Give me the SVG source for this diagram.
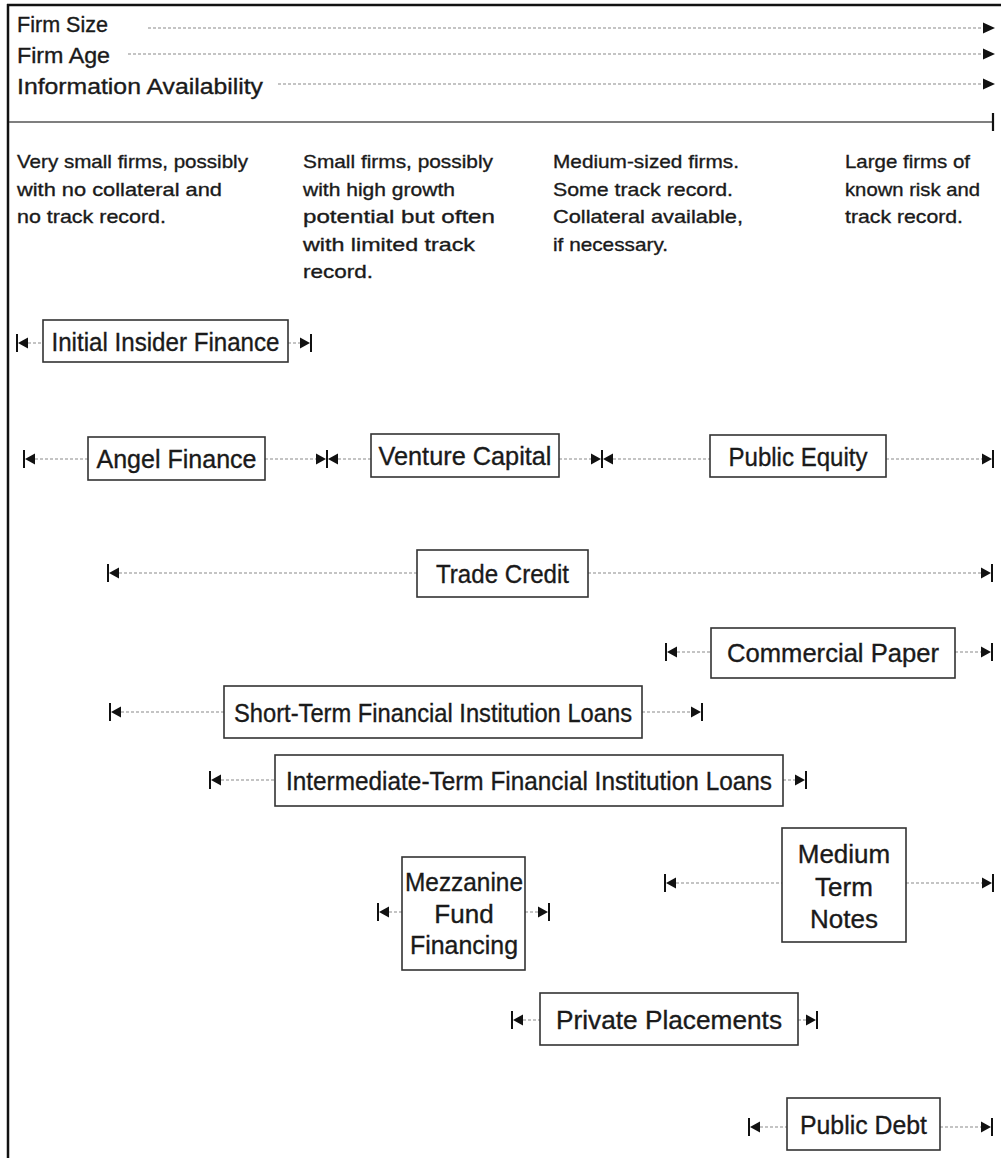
<svg xmlns="http://www.w3.org/2000/svg" xmlns:xlink="http://www.w3.org/1999/xlink" width="1001" height="1158" viewBox="0 0 1001 1158">
<style>
text{font-family:"Liberation Sans",Arial,sans-serif;fill:#1a1a1a;stroke:#1a1a1a;stroke-width:0.35}
.hdr{font-size:22px}
.desc{font-size:19px}
.lbl{font-size:26px;text-anchor:middle}
.box{fill:#fff;stroke:#333;stroke-width:1.6}
.dot{stroke:#8a8a8a;stroke-width:1.2;stroke-dasharray:3 2;fill:none}
.bar{stroke:#111;stroke-width:2}
.tri{fill:#111}
</style>
<defs>
<g id="capL"><line class="bar" x1="0" y1="-9" x2="0" y2="9"/><polygon class="tri" points="1,0 11,-5.5 11,5.5"/></g>
<g id="capR"><line class="bar" x1="0" y1="-9" x2="0" y2="9"/><polygon class="tri" points="-1,0 -11,-5.5 -11,5.5"/></g>
<polygon id="head" class="tri" points="995,0 983,-5.5 983,5.5"/>
</defs>
<rect width="1001" height="1158" fill="#fff"/>
<g id="frame">
<line x1="7" y1="5" x2="1001" y2="5" stroke="#111" stroke-width="2.5"/>
<line x1="8" y1="4" x2="8" y2="1158" stroke="#111" stroke-width="2.5"/>
</g>
<g id="axes">
<text class="hdr" x="17" y="32" textLength="91" lengthAdjust="spacingAndGlyphs">Firm Size</text>
<text class="hdr" x="17" y="63" textLength="93" lengthAdjust="spacingAndGlyphs">Firm Age</text>
<text class="hdr" x="17" y="94" textLength="246" lengthAdjust="spacingAndGlyphs">Information Availability</text>
<line class="dot" x1="148" y1="28" x2="983" y2="28"/>
<line class="dot" x1="128" y1="54" x2="983" y2="54"/>
<line class="dot" x1="278" y1="84" x2="983" y2="84"/>
<use xlink:href="#head" href="#head" y="28"/>
<use xlink:href="#head" href="#head" y="54"/>
<use xlink:href="#head" href="#head" y="84"/>
<line x1="9" y1="122" x2="993" y2="122" stroke="#555" stroke-width="1.5"/>
<line x1="993" y1="113" x2="993" y2="131" stroke="#111" stroke-width="2.2"/>
</g>
<g id="descriptions">
<text class="desc" x="17" y="168" textLength="231" lengthAdjust="spacingAndGlyphs">Very small firms, possibly</text>
<text class="desc" x="17" y="195.5" textLength="205" lengthAdjust="spacingAndGlyphs">with no collateral and</text>
<text class="desc" x="17" y="223" textLength="149" lengthAdjust="spacingAndGlyphs">no track record.</text>
<text class="desc" x="303" y="168" textLength="190" lengthAdjust="spacingAndGlyphs">Small firms, possibly</text>
<text class="desc" x="303" y="195.5" textLength="152" lengthAdjust="spacingAndGlyphs">with high growth</text>
<text class="desc" x="303" y="223" textLength="192" lengthAdjust="spacingAndGlyphs">potential but often</text>
<text class="desc" x="303" y="250.5" textLength="172" lengthAdjust="spacingAndGlyphs">with limited track</text>
<text class="desc" x="303" y="278" textLength="70" lengthAdjust="spacingAndGlyphs">record.</text>
<text class="desc" x="553" y="168" textLength="186" lengthAdjust="spacingAndGlyphs">Medium-sized firms.</text>
<text class="desc" x="553" y="195.5" textLength="180" lengthAdjust="spacingAndGlyphs">Some track record.</text>
<text class="desc" x="553" y="223" textLength="190" lengthAdjust="spacingAndGlyphs">Collateral available,</text>
<text class="desc" x="553" y="250.5" textLength="115" lengthAdjust="spacingAndGlyphs">if necessary.</text>
<text class="desc" x="845" y="168" textLength="125" lengthAdjust="spacingAndGlyphs">Large firms of</text>
<text class="desc" x="845" y="195.5" textLength="135" lengthAdjust="spacingAndGlyphs">known risk and</text>
<text class="desc" x="845" y="223" textLength="118" lengthAdjust="spacingAndGlyphs">track record.</text>
</g>
<g id="connectors">
<line class="dot" x1="28" y1="343" x2="43" y2="343"/><line class="dot" x1="288" y1="343" x2="300" y2="343"/>
<line class="dot" x1="35" y1="459" x2="88" y2="459"/><line class="dot" x1="265" y1="459" x2="316" y2="459"/>
<line class="dot" x1="338" y1="459" x2="371" y2="459"/><line class="dot" x1="559" y1="459" x2="591" y2="459"/>
<line class="dot" x1="613" y1="459" x2="710" y2="459"/><line class="dot" x1="886" y1="459" x2="982" y2="459"/>
<line class="dot" x1="119" y1="573" x2="417" y2="573"/><line class="dot" x1="588" y1="573" x2="981" y2="573"/>
<line class="dot" x1="677" y1="652" x2="711" y2="652"/><line class="dot" x1="955" y1="652" x2="981" y2="652"/>
<line class="dot" x1="121" y1="712" x2="224" y2="712"/><line class="dot" x1="642" y1="712" x2="691" y2="712"/>
<line class="dot" x1="221" y1="780" x2="275" y2="780"/><line class="dot" x1="783" y1="780" x2="795" y2="780"/>
<line class="dot" x1="389" y1="912" x2="402" y2="912"/><line class="dot" x1="525" y1="912" x2="538" y2="912"/>
<line class="dot" x1="676" y1="883" x2="782" y2="883"/><line class="dot" x1="906" y1="883" x2="982" y2="883"/>
<line class="dot" x1="523" y1="1020" x2="540" y2="1020"/><line class="dot" x1="798" y1="1020" x2="806" y2="1020"/>
<line class="dot" x1="760" y1="1127" x2="787" y2="1127"/><line class="dot" x1="940" y1="1127" x2="981" y2="1127"/>
<use xlink:href="#capL" href="#capL" x="17" y="343"/><use xlink:href="#capR" href="#capR" x="311" y="343"/>
<use xlink:href="#capL" href="#capL" x="24" y="459"/><use xlink:href="#capR" href="#capR" x="327" y="459"/>
<use xlink:href="#capL" href="#capL" x="327" y="459"/><use xlink:href="#capR" href="#capR" x="602" y="459"/>
<use xlink:href="#capL" href="#capL" x="602" y="459"/><use xlink:href="#capR" href="#capR" x="993" y="459"/>
<use xlink:href="#capL" href="#capL" x="108" y="573"/><use xlink:href="#capR" href="#capR" x="992" y="573"/>
<use xlink:href="#capL" href="#capL" x="666" y="652"/><use xlink:href="#capR" href="#capR" x="992" y="652"/>
<use xlink:href="#capL" href="#capL" x="110" y="712"/><use xlink:href="#capR" href="#capR" x="702" y="712"/>
<use xlink:href="#capL" href="#capL" x="210" y="780"/><use xlink:href="#capR" href="#capR" x="806" y="780"/>
<use xlink:href="#capL" href="#capL" x="378" y="912"/><use xlink:href="#capR" href="#capR" x="549" y="912"/>
<use xlink:href="#capL" href="#capL" x="665" y="883"/><use xlink:href="#capR" href="#capR" x="993" y="883"/>
<use xlink:href="#capL" href="#capL" x="512" y="1020"/><use xlink:href="#capR" href="#capR" x="817" y="1020"/>
<use xlink:href="#capL" href="#capL" x="749" y="1127"/><use xlink:href="#capR" href="#capR" x="992" y="1127"/>
</g>
<g id="initial-insider"><rect class="box" x="43" y="320" width="245" height="42"/><text class="lbl" x="165.5" y="351" textLength="228" lengthAdjust="spacingAndGlyphs">Initial Insider Finance</text></g>
<g id="angel"><rect class="box" x="88" y="437" width="177" height="43"/><text class="lbl" x="176.5" y="468" textLength="160" lengthAdjust="spacingAndGlyphs">Angel Finance</text></g>
<g id="venture"><rect class="box" x="371" y="434" width="188" height="43"/><text class="lbl" x="465" y="465" textLength="173" lengthAdjust="spacingAndGlyphs">Venture Capital</text></g>
<g id="public-equity"><rect class="box" x="710" y="435" width="176" height="42"/><text class="lbl" x="798" y="466" textLength="139" lengthAdjust="spacingAndGlyphs">Public Equity</text></g>
<g id="trade-credit"><rect class="box" x="417" y="550" width="171" height="47"/><text class="lbl" x="502.5" y="583" textLength="133" lengthAdjust="spacingAndGlyphs">Trade Credit</text></g>
<g id="commercial-paper"><rect class="box" x="711" y="628" width="244" height="50"/><text class="lbl" x="833" y="662" textLength="212" lengthAdjust="spacingAndGlyphs">Commercial Paper</text></g>
<g id="short-term"><rect class="box" x="224" y="686" width="418" height="52"/><text class="lbl" x="433" y="722" textLength="398" lengthAdjust="spacingAndGlyphs">Short-Term Financial Institution Loans</text></g>
<g id="intermediate-term"><rect class="box" x="275" y="755" width="508" height="51"/><text class="lbl" x="529" y="790" textLength="486" lengthAdjust="spacingAndGlyphs">Intermediate-Term Financial Institution Loans</text></g>
<g id="mezzanine"><rect class="box" x="402" y="857" width="123" height="113"/><text class="lbl" x="464" y="891" textLength="118" lengthAdjust="spacingAndGlyphs">Mezzanine</text><text class="lbl" x="464" y="923">Fund</text><text class="lbl" x="464" y="954" textLength="108" lengthAdjust="spacingAndGlyphs">Financing</text></g>
<g id="medium-term-notes"><rect class="box" x="782" y="828" width="124" height="114"/><text class="lbl" x="844" y="863">Medium</text><text class="lbl" x="844" y="896">Term</text><text class="lbl" x="844" y="928">Notes</text></g>
<g id="private-placements"><rect class="box" x="540" y="993" width="258" height="52"/><text class="lbl" x="669" y="1029" textLength="226" lengthAdjust="spacingAndGlyphs">Private Placements</text></g>
<g id="public-debt"><rect class="box" x="787" y="1098" width="153" height="52"/><text class="lbl" x="863.5" y="1134" textLength="127" lengthAdjust="spacingAndGlyphs">Public Debt</text></g>
</svg>
